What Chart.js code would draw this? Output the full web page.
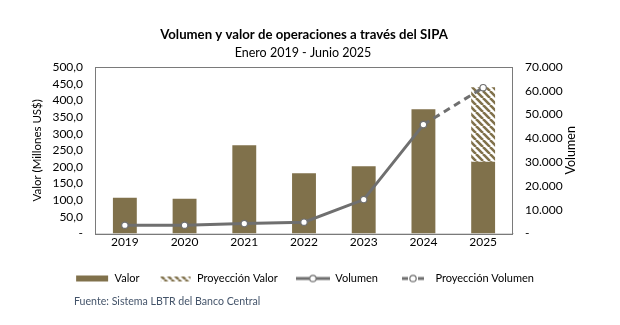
<!DOCTYPE html>
<html><head><meta charset="utf-8">
<script src="https://cdn.jsdelivr.net/npm/chart.js@4"></script>
<style>html,body{margin:0;padding:0;background:#fff}#wrap{width:620px;height:325px;position:relative}</style>
</head><body><div id="wrap"><canvas id="c" width="620" height="325"></canvas></div>
<script>
// ---- data ----
const categories = ['2019', '2020', '2021', '2022', '2023', '2024', '2025'];
const valor = [107.5, 104.5, 265, 181, 202, 373, 216];
const proyeccionValor = [null, null, null, null, null, null, 223];
const volumen = [3500, 3500, 4200, 4800, 14300, 45800, null];
const proyeccionVolumen = [null, null, null, null, null, 45800, 61300];
const seriesNames = ['Valor', 'Proyección Valor', 'Volumen', 'Proyección Volumen'];
const titleText = 'Volumen y valor de operaciones a través del SIPA';
const subtitleText = 'Enero 2019 - Junio 2025';
const sourceText = 'Fuente: Sistema LBTR del Banco Central';
const leftAxisTitle = 'Valor (Millones US$)';
const rightAxisTitle = 'Volumen';

// ---- styles ----
const FONT = 'Lato, "Open Sans", sans-serif';
const BROWN = '#80714B';
const GREY = '#6F6F6F';

function makeHatchCanvas(w, h) {
  const c = document.createElement('canvas');
  c.width = w; c.height = h;
  const g = c.getContext('2d');
  g.fillStyle = '#fff'; g.fillRect(0, 0, w, h);
  g.strokeStyle = BROWN; g.lineWidth = 2.6;
  g.beginPath();
  for (let k = -h; k < w + h; k += 7) { g.moveTo(k, 0); g.lineTo(k + h, h); }
  g.stroke();
  return c;
}
const tile = makeHatchCanvas(7, 7);
const hatchPattern = document.getElementById('c').getContext('2d').createPattern(tile, 'repeat');

function swatch(kind) {
  const c = document.createElement('canvas');
  c.width = 34; c.height = 12;
  const g = c.getContext('2d');
  if (kind === 0) { g.fillStyle = BROWN; g.fillRect(1, 3, 32, 6); }
  else if (kind === 1) {
    const p = g.createPattern(makeHatchCanvas(7, 7), 'repeat');
    g.fillStyle = p; g.fillRect(3, 4, 30, 5);
  } else {
    g.strokeStyle = GREY; g.lineWidth = 3;
    g.beginPath();
    if (kind === 3) { g.moveTo(6, 6); g.lineTo(12, 6); g.moveTo(22, 6); g.lineTo(28, 6); }
    else { g.moveTo(0, 6); g.lineTo(34, 6); }
    g.stroke();
    g.fillStyle = '#fff'; g.lineWidth = 1.2;
    g.beginPath(); g.arc(17, 6, 3.2, 0, Math.PI * 2); g.fill(); g.stroke();
  }
  return c;
}
const swatches = [swatch(0), swatch(1), swatch(2), swatch(3)];

const frame = {
  id: 'frame',
  beforeDatasetsDraw(chart) {
    const a = chart.chartArea, ctx = chart.ctx;
    ctx.save();
    ctx.strokeStyle = '#7A7A7A'; ctx.lineWidth = 1;
    ctx.strokeRect(Math.round(a.left) + 0.5, Math.round(a.top) + 0.5, Math.round(a.right - a.left) - 1, Math.round(a.bottom - a.top));
    ctx.restore();
  },
  afterDraw(chart) {
    const ctx = chart.ctx, a = chart.chartArea;
    ctx.save();
    ctx.fillStyle = '#000'; ctx.textAlign = 'center'; ctx.textBaseline = 'middle';
    ctx.font = 'bold 13.2px ' + FONT;
    ctx.fillText(titleText, 304, 35);
    ctx.font = '12.5px ' + FONT;
    ctx.fillText(subtitleText, 303, 53);
    // right axis title, reading bottom to top
    ctx.save();
    ctx.translate(571, (a.top + a.bottom) / 2);
    ctx.rotate(-Math.PI / 2);
    ctx.font = '12.5px ' + FONT;
    ctx.fillText(rightAxisTitle, 0, 0);
    ctx.restore();
    ctx.textAlign = 'left';
    ctx.fillStyle = '#44546A';
    ctx.font = '10.6px ' + FONT;
    ctx.fillText(sourceText, 74, 302);
    ctx.restore();
  }
};

const fmtLeft = v => v === 0 ? '-' : v.toFixed(1).replace('.', ',');
const fmtRight = v => v === 0 ? '-' : String(v).replace(/\B(?=(\d{3})+(?!\d))/g, '.');

new Chart(document.getElementById('c'), {
  type: 'bar',
  data: {
    labels: categories,
    datasets: [
      { label: seriesNames[0], data: valor, backgroundColor: BROWN, yAxisID: 'y', order: 2, barPercentage: 0.4, categoryPercentage: 1 },
      { label: seriesNames[1], data: proyeccionValor, backgroundColor: hatchPattern, yAxisID: 'y', order: 2, barPercentage: 0.4, categoryPercentage: 1 },
      { type: 'line', label: seriesNames[2], data: volumen, yAxisID: 'y1', order: 0, borderColor: GREY, borderWidth: 3,
        pointRadius: 3.2, pointBackgroundColor: '#fff', pointBorderColor: GREY, pointBorderWidth: 1.2, tension: 0, spanGaps: false },
      { type: 'line', label: seriesNames[3], data: proyeccionVolumen, yAxisID: 'y1', order: 1, borderColor: GREY, borderWidth: 3, borderDash: [7, 5],
        pointRadius: 3.2, pointBackgroundColor: '#fff', pointBorderColor: GREY, pointBorderWidth: 1.2, tension: 0 }
    ]
  },
  options: {
    responsive: false,
    animation: false,
    devicePixelRatio: 1,
    layout: { padding: { left: 26, right: 37, top: 67, bottom: 31 } },
    scales: {
      x: {
        stacked: true,
        grid: { display: false, drawTicks: false },
        border: { display: true, color: '#D9D9D9', width: 1 },
        ticks: { color: '#000', font: { family: FONT, size: 12 }, padding: 1 },
        afterFit(s) { s.height += 5; }
      },
      y: {
        stacked: true, position: 'left', min: 0, max: 500,
        grid: { display: false, drawTicks: false },
        border: { display: false },
        ticks: { stepSize: 50, autoSkip: false, color: '#000', font: { family: FONT, size: 12 }, padding: 12, callback: fmtLeft },
        title: { display: true, text: leftAxisTitle, color: '#000', font: { family: FONT, size: 11.5 }, padding: 4 },
        afterFit(s) { s.width = 69; }
      },
      y1: {
        stacked: false, position: 'right', min: 0, max: 70000,
        grid: { display: false, drawTicks: false },
        border: { display: false },
        ticks: { stepSize: 10000, autoSkip: false, color: '#000', font: { family: FONT, size: 12 }, padding: 12, callback: fmtRight },
        title: { display: false },
        afterFit(s) { s.width = 70; }
      }
    },
    plugins: {
      title: { display: false },
      tooltip: { enabled: false },
      legend: {
        position: 'bottom',
        labels: {
          usePointStyle: true, pointStyleWidth: 34, boxHeight: 12, padding: 18,
          color: '#000', font: { family: FONT, size: 11 },
          generateLabels(chart) {
            const items = Chart.defaults.plugins.legend.labels.generateLabels(chart);
            items.forEach(it => { it.pointStyle = swatches[it.datasetIndex]; it.lineWidth = 0; it.strokeStyle = 'rgba(0,0,0,0)'; it.fillStyle = 'rgba(0,0,0,0)'; });
            return items.sort((a, b) => a.datasetIndex - b.datasetIndex);
          }
        }
      }
    }
  },
  plugins: [frame]
});
</script>
</body></html>
